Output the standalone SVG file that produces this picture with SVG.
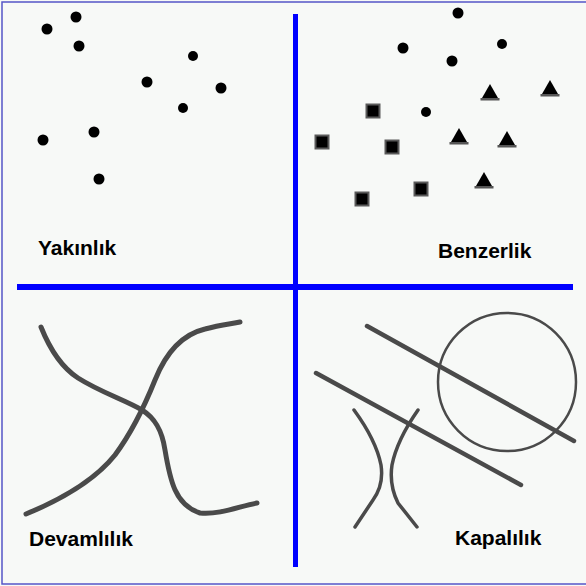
<svg xmlns="http://www.w3.org/2000/svg" width="586" height="586" viewBox="0 0 586 586">
<style>
.lbl{font-family:"Liberation Sans",Arial,sans-serif;font-weight:bold;font-size:21px;fill:#000}
.curve{fill:none;stroke:#4a4a4a;stroke-width:5;stroke-linecap:round;stroke-linejoin:round}
.line{fill:none;stroke:#4a4a4a;stroke-width:4.5;stroke-linecap:round}
.thin{fill:none;stroke:#4a4a4a;stroke-width:3.5;stroke-linecap:round}
.dot{fill:#000}
.sq{fill:#000;stroke:#5a5a5a;stroke-width:2}
</style>
<defs>
<g id="tri"><polygon points="0,-9 -8,5 8,5" fill="#000"/><rect x="-9.5" y="5" width="19" height="2.5" fill="#555"/></g>
<rect id="sqr" x="-6.5" y="-6.5" width="13" height="13" class="sq"/>
</defs>
<rect x="0" y="0" width="586" height="586" fill="#f7f9f7"/>
<rect x="2" y="2" width="590" height="582" fill="none" stroke="#5555c8" stroke-width="1.5"/>
<g id="dividers">
<rect x="293" y="14" width="5" height="553" fill="#0000ff"/>
<rect x="17" y="284" width="556" height="6" fill="#0000ff"/>
</g>
<g id="yakinlik">
<circle class="dot" cx="47" cy="29" r="5.5"/>
<circle class="dot" cx="76" cy="17" r="5.5"/>
<circle class="dot" cx="79" cy="46" r="5.5"/>
<circle class="dot" cx="193" cy="56" r="5"/>
<circle class="dot" cx="147" cy="82" r="5.5"/>
<circle class="dot" cx="221" cy="88" r="5.5"/>
<circle class="dot" cx="183" cy="108" r="5"/>
<circle class="dot" cx="43" cy="140" r="5.5"/>
<circle class="dot" cx="94" cy="132" r="5.5"/>
<circle class="dot" cx="99" cy="179" r="5.5"/>
<text class="lbl" x="38" y="255">Yakınlık</text>
</g>
<g id="benzerlik">
<circle class="dot" cx="458" cy="13" r="5.5"/>
<circle class="dot" cx="403" cy="48" r="5.5"/>
<circle class="dot" cx="502" cy="44" r="5"/>
<circle class="dot" cx="452" cy="61" r="5.5"/>
<circle class="dot" cx="426" cy="112" r="5"/>
<use href="#sqr" x="373" y="111"/>
<use href="#sqr" x="322" y="142"/>
<use href="#sqr" x="392" y="147"/>
<use href="#sqr" x="362" y="199"/>
<use href="#sqr" x="421" y="189"/>
<use href="#tri" x="490" y="93"/>
<use href="#tri" x="550" y="89"/>
<use href="#tri" x="459" y="137"/>
<use href="#tri" x="507" y="140"/>
<use href="#tri" x="484" y="181"/>
<text class="lbl" x="438" y="258">Benzerlik</text>
</g>
<g id="devamlilik">
<path class="curve" d="M41,327 C47,342 58,365 78,378 C100,392 125,400 142,410 C155,418 162,430 165,450 C170,480 175,505 200,513 C220,515 240,506 257,503"/>
<path class="curve" d="M26,514 C60,500 95,480 115,455 C132,432 145,405 155,380 C165,355 180,335 205,329 C220,325 230,324 240,322"/>
<text class="lbl" x="29" y="546">Devamlılık</text>
</g>
<g id="kapalilik">
<circle cx="507" cy="382" r="69" fill="none" stroke="#4a4a4a" stroke-width="2.5"/>
<line class="line" x1="367" y1="326" x2="574" y2="441"/>
<line class="line" x1="316" y1="373" x2="521" y2="485"/>
<path class="thin" d="M354,410 Q376,440 381,465 Q384,485 373,500 L355,527"/>
<path class="thin" d="M418,410 Q397,440 392,465 Q389,485 398,503 L417,527"/>
<text class="lbl" x="455" y="545">Kapalılık</text>
</g>
</svg>
